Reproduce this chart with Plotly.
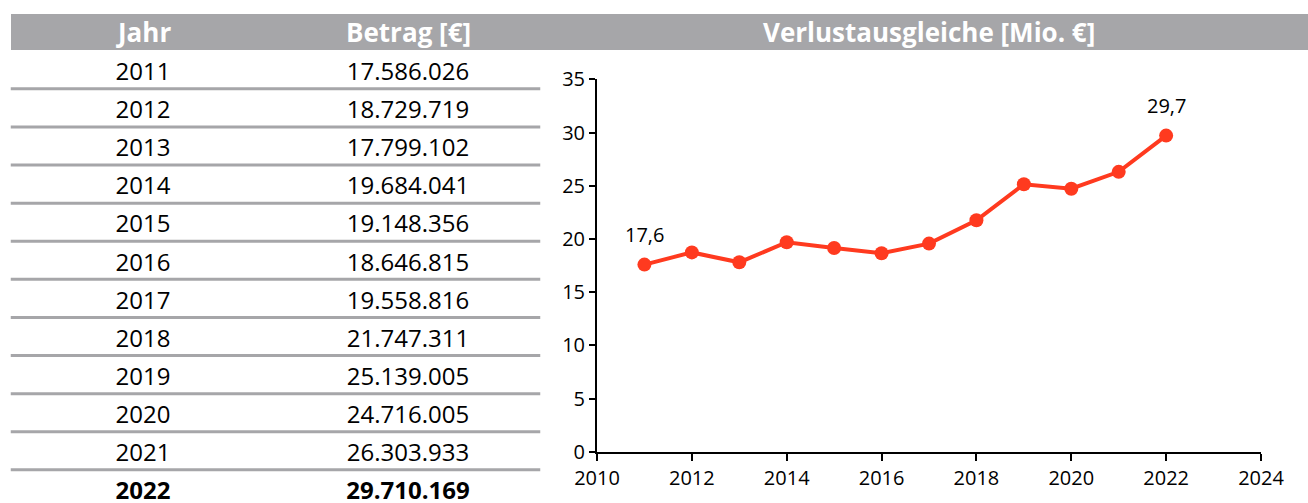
import plotly.graph_objects as go

years = [2011, 2012, 2013, 2014, 2015, 2016, 2017, 2018, 2019, 2020, 2021, 2022]
amounts = [17586026, 18729719, 17799102, 19684041, 19148356, 18646815,
           19558816, 21747311, 25139005, 24716005, 26303933, 29710169]
col_headers = ["Jahr", "Betrag [€]"]
chart_title = "Verlustausgleiche [Mio. €]"

W, H = 1308, 503
LINE_COLOR = "#ff3a1f"
GREY = "#a6a6a9"
FONT = "Open Sans"

mio = [a / 1e6 for a in amounts]

def de_int(v):
    return f"{v:,}".replace(",", ".")

def de_1(v):
    return f"{v:.1f}".replace(".", ",")

fig = go.Figure()

# --- line chart ---
fig.add_trace(go.Scatter(
    x=years, y=mio, mode="lines+markers",
    line=dict(color=LINE_COLOR, width=4),
    marker=dict(color=LINE_COLOR, size=14),
    xaxis="x", yaxis="y", showlegend=False, hoverinfo="skip",
))

for i in (0, len(years) - 1):
    fig.add_annotation(x=years[i], y=mio[i], xref="x", yref="y",
                       text=de_1(mio[i]), showarrow=False, yshift=30,
                       font=dict(family=FONT, size=20, color="#000"))

# --- table (text traces on hidden axes) ---
row_h = 38.1
center_first = 74
y2_range = [years[0] + (H - center_first) / row_h, years[0] - center_first / row_h]

plain = years[:-1]
fig.add_trace(go.Scatter(
    x=[col_headers[0]] * len(plain), y=plain, mode="text",
    text=[str(y) for y in plain], textposition="middle center",
    textfont=dict(family=FONT, size=24, color="#000"),
    xaxis="x2", yaxis="y2", showlegend=False, hoverinfo="skip"))
fig.add_trace(go.Scatter(
    x=[col_headers[1]] * len(plain), y=plain, mode="text",
    text=[de_int(a) for a in amounts[:-1]], textposition="middle center",
    textfont=dict(family=FONT, size=24, color="#000"),
    xaxis="x2", yaxis="y2", showlegend=False, hoverinfo="skip"))
fig.add_trace(go.Scatter(
    x=col_headers, y=[years[-1]] * 2, mode="text",
    text=[f"<b>{years[-1]}</b>", f"<b>{de_int(amounts[-1])}</b>"],
    textposition="middle center",
    textfont=dict(family=FONT, size=24, color="#000"),
    xaxis="x2", yaxis="y2", showlegend=False, hoverinfo="skip"))

# header band
fig.add_shape(type="rect", xref="paper", yref="paper",
              x0=11 / W, x1=1, y0=(H - 50) / H, y1=(H - 14) / H,
              fillcolor=GREY, line_width=0, layer="below")
for h in col_headers:
    fig.add_annotation(x=h, y=(H - 32) / H, xref="x2", yref="paper",
                       text=f"<b>{h}</b>", showarrow=False,
                       xanchor="center", yanchor="middle",
                       font=dict(family=FONT, size=26, color="#fff"))

# separators
for y in years[:-1]:
    fig.add_shape(type="line", xref="x2", yref="y2",
                  x0=-0.5, x1=1.5, y0=y + 0.39, y1=y + 0.39,
                  line=dict(color=GREY, width=3))

x_dom = [597 / W, 1261 / W]
y_dom = [(H - 451.7) / H, (H - 79.3) / H]

fig.add_annotation(x=(x_dom[0] + x_dom[1]) / 2, y=(H - 32) / H,
                   xref="paper", yref="paper", text=f"<b>{chart_title}</b>",
                   showarrow=False, xanchor="center", yanchor="middle",
                   font=dict(family=FONT, size=26, color="#fff"))

fig.update_layout(
    width=W, height=H, margin=dict(l=0, r=0, t=0, b=0, pad=0, autoexpand=False),
    paper_bgcolor="white", plot_bgcolor="white",
    font=dict(family=FONT, color="#000"),
    xaxis=dict(domain=x_dom, range=[2010, 2024], dtick=2, tick0=2010,
               showgrid=False, zeroline=False, showline=True, linecolor="#000",
               linewidth=2, ticks="outside", ticklen=7, tickwidth=2,
               tickcolor="#000", tickfont=dict(size=20, family=FONT),
               automargin=False),
    yaxis=dict(domain=y_dom, range=[0, 35], dtick=5, showgrid=False,
               zeroline=False, showline=True, linecolor="#000", linewidth=2,
               ticks="outside", ticklen=6, tickwidth=2, tickcolor="#000",
               tickfont=dict(size=20, family=FONT), automargin=False),
    xaxis2=dict(domain=[10.5 / W, 540.5 / W], range=[-0.5, 1.5], type="category",
                categoryorder="array", categoryarray=col_headers,
                visible=False, anchor="y2", automargin=False),
    yaxis2=dict(domain=[0, 1], range=y2_range, visible=False, anchor="x2",
                automargin=False),
)

fig.write_html("out.html", config={"displayModeBar": False},
               post_script="document.body.style.margin='0';document.body.style.overflow='hidden';")
